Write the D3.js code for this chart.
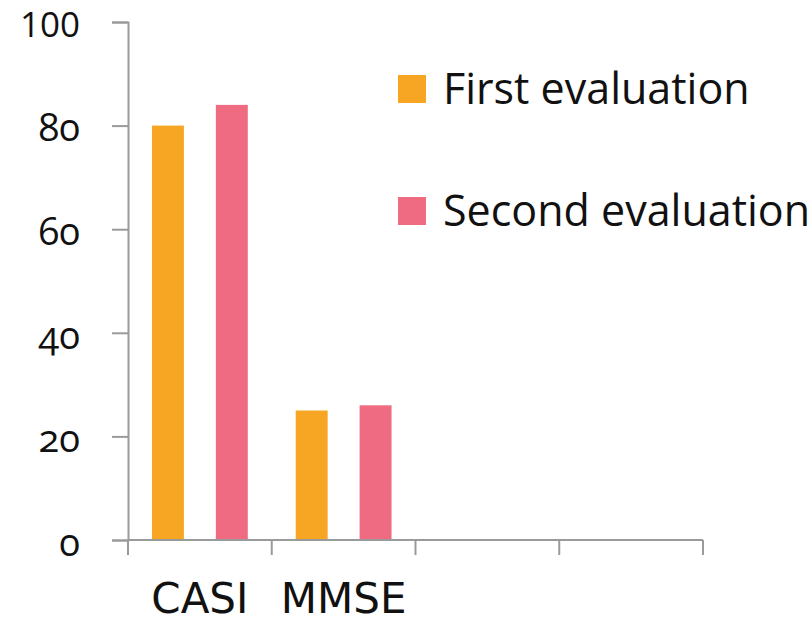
<!DOCTYPE html>
<html><head><meta charset="utf-8">
<script src="https://cdn.jsdelivr.net/npm/d3@7"></script>
<style>
html,body{margin:0;padding:0;background:#fff;}
text{font-family:"Open Sans","Noto Sans",sans-serif;}
.ytick text{font-variant-numeric:oldstyle-nums;font-feature-settings:"onum" 1;}
.ytick text.lining{font-variant-numeric:lining-nums;font-feature-settings:"lnum" 1;}
</style></head>
<body>
<svg id="c" width="812" height="623"></svg>
<script>
const categories = ["CASI", "MMSE", "", ""];
const seriesNames = ["First evaluation", "Second evaluation"];
const firstEval = [80, 25, null, null];
const secondEval = [84, 26, null, null];
const yTicks = [0, 20, 40, 60, 80, 100];
const colors = ["#F7A623", "#EF6B81"];

const svg = d3.select("#c");
const W = 812, H = 623;
const m = {left:128, right:W-703, top:22, bottom:H-540};
const x = d3.scaleBand().domain(d3.range(categories.length)).range([m.left, W - m.right]).paddingInner(0).paddingOuter(0);
const y = d3.scaleLinear().domain([0, 100]).range([H - m.bottom, m.top]);
const sub = d3.scaleBand().domain([0,1]).range([0, x.bandwidth()]).paddingInner(0.5).paddingOuter(0.375);

const series = [firstEval, secondEval];
series.forEach((vals, si) => {
  svg.append("g").selectAll("rect").data(vals.map((v,i)=>({v,i})).filter(d=>d.v!=null))
    .join("rect")
    .attr("x", d => x(d.i) + sub(si))
    .attr("width", sub.bandwidth())
    .attr("y", d => y(d.v))
    .attr("height", d => y(0) - y(d.v))
    .attr("fill", colors[si]);
});

// y axis
const ya = svg.append("g").attr("class","ytick").attr("transform",`translate(${m.left},0)`)
  .call(d3.axisLeft(y).tickValues(yTicks).tickSize(16).tickPadding(32).tickFormat(d3.format("d")));
ya.select(".domain").attr("stroke","#9a9a9a").attr("stroke-width",2);
ya.selectAll(".tick line").attr("stroke","#9a9a9a").attr("stroke-width",2);
ya.selectAll("text").attr("fill","#111").attr("dy","0.4em")
  .attr("class", d => d >= 100 ? "lining" : null)
  .attr("font-size", d => d >= 100 ? 35 : 38);

// x axis
const xEdges = d3.range(categories.length + 1).map(i => i < categories.length ? x(i) : x(categories.length-1) + x.bandwidth());
const xg = svg.append("g");
xg.append("line").attr("x1", m.left).attr("x2", W - m.right).attr("y1", y(0)).attr("y2", y(0))
  .attr("stroke","#9a9a9a").attr("stroke-width",2);
xg.selectAll("line.t").data(xEdges).join("line").attr("class","t")
  .attr("x1", d=>d).attr("x2", d=>d).attr("y1", y(0)).attr("y2", y(0)+15)
  .attr("stroke","#9a9a9a").attr("stroke-width",2);
xg.selectAll("text").data(categories).join("text")
  .attr("x", (d,i) => x(i) + x.bandwidth()/2)
  .attr("y", 613)
  .attr("text-anchor","middle").attr("font-size",42).attr("fill","#111")
  .style("font-family", '"DejaVu Sans", sans-serif')
  .text(d=>d);

// legend
const lg = svg.append("g");
seriesNames.forEach((n, i) => {
  const yy = 75 + i*122;
  lg.append("rect").attr("x",398).attr("y",yy).attr("width",28).attr("height",28).attr("fill",colors[i]);
  lg.append("text").attr("x",443).attr("y",yy+29).attr("font-size",43).attr("fill","#111").text(n);
});
</script>
</body></html>
